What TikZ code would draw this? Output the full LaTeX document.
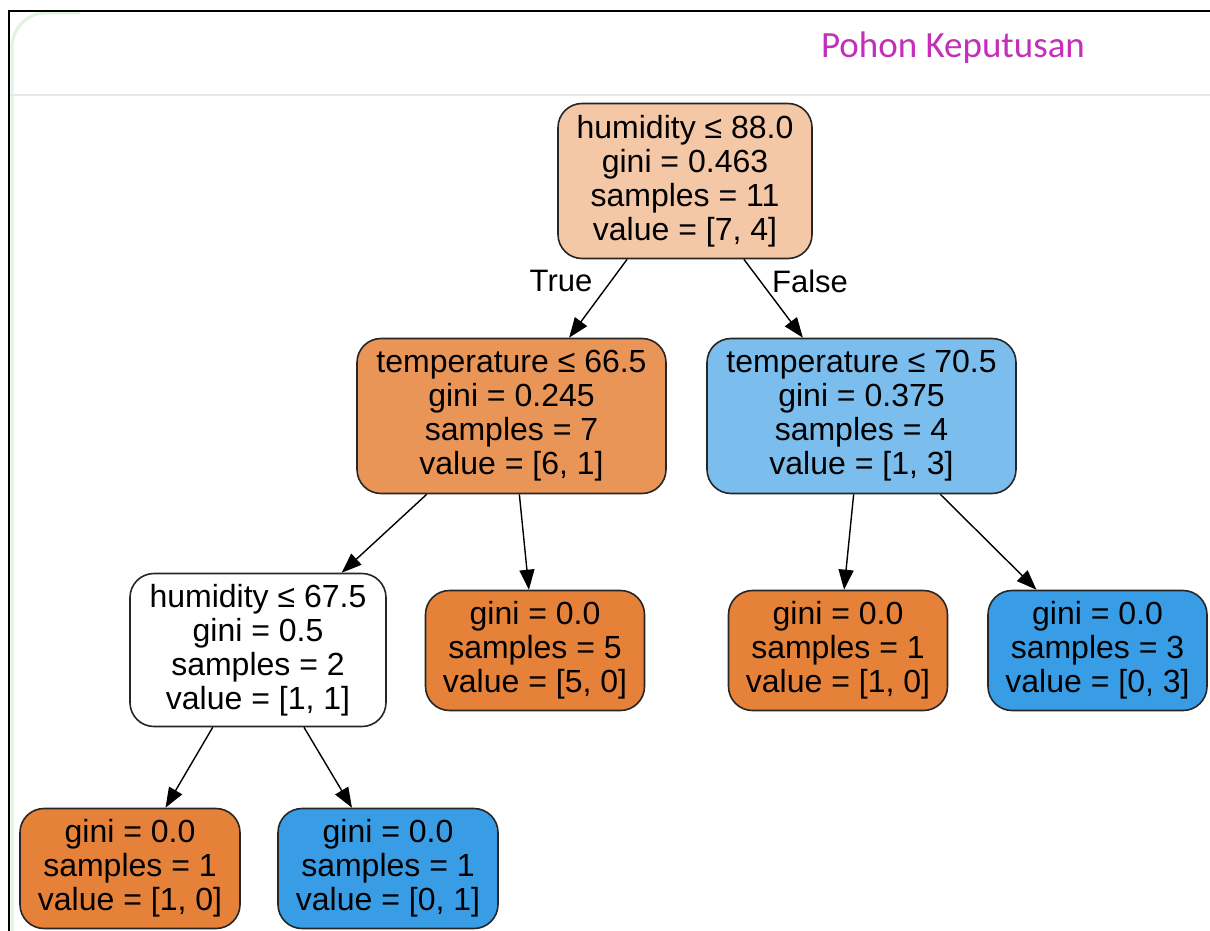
\documentclass[tikz,border=0pt]{standalone}
\usepackage{fontspec}
\setmainfont{Liberation Sans}
\newfontfamily\titlefont{Carlito}
\usetikzlibrary{arrows.meta}

\definecolor{rootfill}{HTML}{F4C7A6}
\definecolor{midorange}{HTML}{E99558}
\definecolor{fullorange}{HTML}{E58139}
\definecolor{midblue}{HTML}{7BBDED}
\definecolor{fullblue}{HTML}{399DE5}
\definecolor{titlemag}{HTML}{C42FBA}
\definecolor{rulegray}{HTML}{E4E8EC}
\definecolor{palegreen}{HTML}{E2F3E2}
\definecolor{nodeline}{HTML}{262626}

\begin{document}
\begin{tikzpicture}[x=1pt,y=-1pt,
  treenode/.style={draw=nodeline, line width=1.6pt, rounded corners=24pt,
    align=center, inner sep=0pt, font=\fontsize{32}{34}\selectfont},
  split/.style={treenode, minimum width=254pt, minimum height=155pt},
  leaf/.style={treenode, minimum width=219pt, minimum height=120pt},
  link/.style={draw=black, line width=1.4pt, -{Triangle[length=20pt,width=15pt]}},
  branchlbl/.style={font=\fontsize{31}{34}\selectfont, inner sep=0pt}]
\useasboundingbox (0,0) rectangle (1210,931);
\fill[white] (0,0) rectangle (1210,931);

% window frame and header
\draw[palegreen, line width=3pt, rounded corners=34pt] (12,931) -- (12,13) -- (80,13);
\draw[rulegray, line width=2pt] (10,95) -- (1210,95);
\draw[black, line width=2.8pt] (9,931) -- (9,11) -- (1210,11);
\node[text=titlemag, font=\titlefont\fontsize{37}{40}\selectfont, inner sep=0pt]
  (title) at (953,48) {Pohon Keputusan};

% tree nodes
\node[split, fill=rootfill] (root) at (685,181)
  {humidity ≤ 88.0\\gini = 0.463\\samples = 11\\value = [7, 4]};
\node[split, fill=midorange, minimum width=309pt] (tl) at (511.5,416)
  {temperature ≤ 66.5\\gini = 0.245\\samples = 7\\value = [6, 1]};
\node[split, fill=midblue, minimum width=309pt] (tr) at (861.5,416)
  {temperature ≤ 70.5\\gini = 0.375\\samples = 4\\value = [1, 3]};
\node[split, fill=white, minimum width=256pt, minimum height=153pt] (hl) at (258,650)
  {humidity ≤ 67.5\\gini = 0.5\\samples = 2\\value = [1, 1]};
\node[leaf, fill=fullorange] (l5) at (535,650.5)
  {gini = 0.0\\samples = 5\\value = [5, 0]};
\node[leaf, fill=fullorange] (l1) at (838,650.5)
  {gini = 0.0\\samples = 1\\value = [1, 0]};
\node[leaf, fill=fullblue] (l3) at (1097.5,650.5)
  {gini = 0.0\\samples = 3\\value = [0, 3]};
\node[leaf, fill=fullorange, minimum width=220pt] (bl) at (130,868.5)
  {gini = 0.0\\samples = 1\\value = [1, 0]};
\node[leaf, fill=fullblue, minimum width=220pt] (br) at (388,868.5)
  {gini = 0.0\\samples = 1\\value = [0, 1]};

% branches
\draw[link] (root) -- (tl);
\draw[link] (root) -- (tr);
\draw[link] (tl) -- (hl);
\draw[link] (tl) -- (l5);
\draw[link] (tr) -- (l1);
\draw[link] (tr) -- (l3);
\draw[link] (hl) -- (bl);
\draw[link] (hl) -- (br);

\node[branchlbl] (ltrue) at (561,281) {True};
\node[branchlbl] (lfalse) at (810,281) {False};
\end{tikzpicture}
\end{document}
